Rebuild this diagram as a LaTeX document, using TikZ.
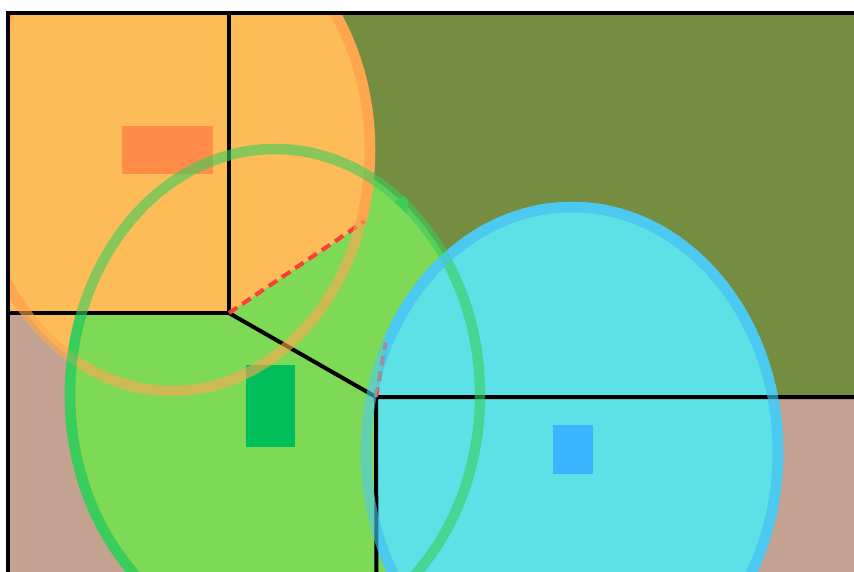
\documentclass[tikz,border=0pt]{standalone}
\usetikzlibrary{calc}
\definecolor{olivebg}{HTML}{758D40}
\definecolor{brownbg}{HTML}{C4A291}
\definecolor{orfill}{HTML}{FDBC58}
\definecolor{orline}{HTML}{FFA74F}
\definecolor{orrect}{HTML}{FF8C48}
\definecolor{grfill}{HTML}{7ED957}
\definecolor{grline}{HTML}{3ACD5C}
\definecolor{grrect}{HTML}{00BF5A}
\definecolor{cyfill}{HTML}{5CE1E6}
\definecolor{cyline}{HTML}{4CC9F0}
\definecolor{cyrect}{HTML}{38B6FF}
\definecolor{reddash}{HTML}{FF3B3B}
\tikzset{
  cellline/.style={line width=4pt, black},
  sepline/.style={line width=4pt, reddash, dash pattern=on 10pt off 6pt},
  ringline/.style={line width=10.5pt},
  ovalO/.style={x radius=198pt, y radius=241pt},
  ovalG/.style={x radius=205pt, y radius=246pt},
  ovalC/.style={x radius=206pt, y radius=245pt},
}
\begin{document}
\begin{tikzpicture}[x=1pt,y=-1pt]
\useasboundingbox (0,0) rectangle (854,572);
\coordinate (A) at (229,14);
\coordinate (B) at (229,313);
\coordinate (C) at (8,313);
\coordinate (D) at (376,397);
\coordinate (E) at (870,397);
\coordinate (F) at (376.5,600);
\coordinate (G) at (365,221);
\coordinate (H) at (385.7,342.3);
\coordinate (P) at (409.5,192.2);
\coordinate (oc) at (172,150);
\coordinate (gc) at (275,395);
\coordinate (cc) at (572,452);
\begin{scope}
\clip (8,14) rectangle (880,600);
% background cells
\fill[orfill] (0,0) rectangle (B);
\fill[olivebg] (229,0) -- (900,0) -- (900,397) -- (D) -- (B) -- cycle;
\fill[brownbg] (0,313) -- (B) -- (D) -- (900,397) -- (900,620) -- (0,620) -- cycle;
% all ellipse fills
\fill[orfill] (oc) ellipse[ovalO];
\fill[grfill] (gc) ellipse[ovalG];
\fill[cyfill] (cc) ellipse[ovalC];
% owner passes
\begin{scope}
\clip (0,0) -- (600,0) -- (600,64.8) -- (B) -- (0,313) -- cycle;
\draw[ringline, orline, fill=orfill] (oc) ellipse[ovalO];
\end{scope}
\begin{scope}
\clip (0,313) -- (B) -- (P) -- (D) -- (376,620) -- (0,620) -- cycle;
\draw[ringline, grline, fill=grfill] (gc) ellipse[ovalG];
\end{scope}
\begin{scope}
\clip (376,620) -- (D) -- (449.1,-50) -- (900,-50) -- (900,620) -- cycle;
\draw[ringline, cyline, fill=cyfill] (cc) ellipse[ovalC];
\end{scope}
% site rectangles
\fill[orrect] (122,126) rectangle (213,174) node[coordinate] (r1) {};
\fill[grrect] (246,365) rectangle (294.5,446.5) node[coordinate] (r2) {};
\fill[cyrect] (553,425) rectangle (592.5,474) node[coordinate] (r3) {};
% cell edges
\draw[cellline] (A) -- (B) -- (C);
\draw[cellline] (B) -- (D) -- (E);
\draw[cellline] (D) -- (F);
\draw[sepline] (B) -- (G);
\draw[sepline] (D) -- (H);
% translucent rings
\draw[ringline, orline, opacity=0.6] (oc) ellipse[ovalO];
\draw[ringline, grline, opacity=0.6] (gc) ellipse[ovalG];
\draw[ringline, cyline, opacity=0.6] (cc) ellipse[ovalC];
\end{scope}
\draw[line width=4pt] (8,620) -- (8,13.5) -- (880,13.5);
\end{tikzpicture}
\end{document}
